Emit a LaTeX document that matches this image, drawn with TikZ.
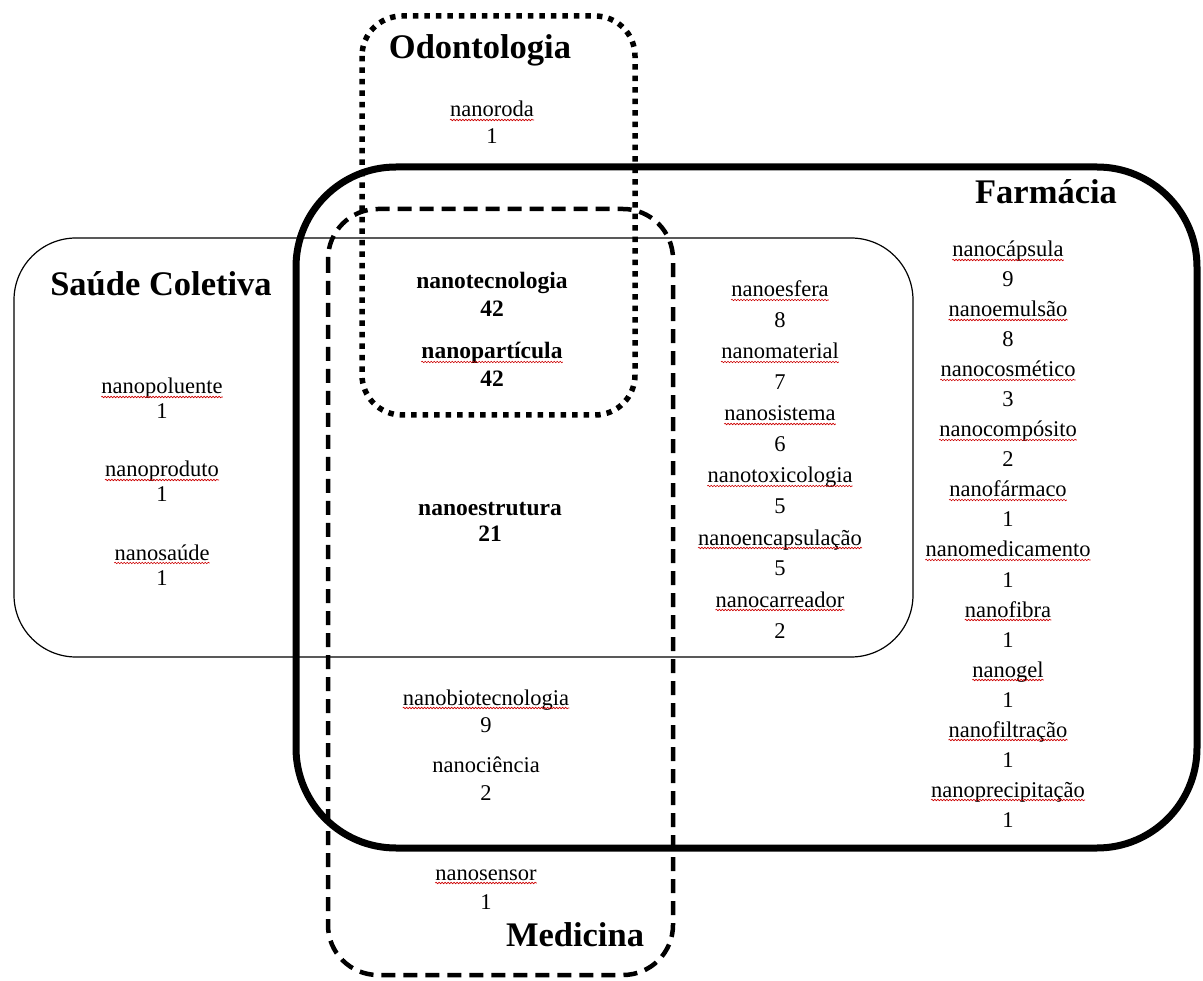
\documentclass[tikz,border=0pt]{standalone}
\usepackage{fontspec}
\setmainfont{Liberation Serif}
\usetikzlibrary{decorations.pathmorphing}
\tikzset{
  term/.style={font=\fontsize{22.5}{27}\selectfont,inner sep=0pt,anchor=base},
  hit/.style={font=\fontsize{23.5}{28}\selectfont\bfseries,inner sep=0pt,anchor=base},
  area/.style={font=\fontsize{34.5}{40}\selectfont\bfseries,inner sep=0pt,anchor=base},
  typo/.style={draw=red!80!black,line width=0.6pt,decorate,
    decoration={snake,amplitude=0.8pt,segment length=3pt}},
  saudebox/.style={draw,line width=1.2pt,rounded corners=62pt},
  farmabox/.style={draw,line width=7pt,rounded corners=100pt},
  medbox/.style={draw,line width=4.5pt,rounded corners=50pt,dash pattern=on 14pt off 8pt},
  odontobox/.style={draw,line width=5.5pt,rounded corners=40pt,dash pattern=on 5.5pt off 6pt}
}
\begin{document}
\begin{tikzpicture}[x=1pt,y=-1pt]
  \useasboundingbox (0,0) rectangle (1203,981);
  % the four areas
  \draw[saudebox] (14,238) rectangle (913,657);
  \draw[farmabox] (296,167) rectangle (1197,848);
  \draw[medbox] (328,209) rectangle (673,975);
  \draw[odontobox] (362,16) rectangle (635,415);

  \node[area] (odonto) at (480,59) {Odontologia};
  \node[area] (farma) at (1046,204) {Farmácia};
  \node[area] (saude) at (161,296) {Saúde Coletiva};
  \node[area] (med) at (575,946) {Medicina};

  % Odontologia only
  \node[term] (ow) at (492,117) {nanoroda};
  \node[term] (on) at (492,144) {1};

  % Saude Coletiva only
  \foreach \w/\n [count=\i from 0] in {nanopoluente/1,nanoproduto/1,nanosaúde/1}{
    \node[term] (sw\i) at (162,{394+83*\i}) {\w};
    \node[term] (sn\i) at (162,{419+83*\i}) {\n};
  }

  % all four / three areas
  \node[hit] (tec) at (492,289) {nanotecnologia};
  \node[hit] (tecn) at (492,317) {42};
  \node[hit] (par) at (492,359) {nanopartícula};
  \node[hit] (parn) at (492,387) {42};
  \node[hit] (est) at (490,515) {nanoestrutura};
  \node[hit] (estn) at (490,542) {21};

  % Saude Coletiva and Farmacia
  \foreach \w/\n [count=\i from 0] in {nanoesfera/8,nanomaterial/7,nanosistema/6,
      nanotoxicologia/5,nanoencapsulação/5,nanocarreador/2}{
    \node[term] (mw\i) at (780,{297+62*\i}) {\w};
    \node[term] (mn\i) at (780,{328+62*\i}) {\n};
  }

  % Farmacia and Medicina
  \node[term] (bio) at (486,705) {nanobiotecnologia};
  \node[term] (bion) at (486,732) {9};
  \node[term] (cie) at (486,772) {nanociência};
  \node[term] (cien) at (486,800) {2};

  % Medicina only
  \node[term] (sen) at (486,880) {nanosensor};
  \node[term] (senn) at (486,909) {1};

  % Farmacia only
  \foreach \w/\n [count=\i from 0] in {nanocápsula/9,nanoemulsão/8,nanocosmético/3,
      nanocompósito/2,nanofármaco/1,nanomedicamento/1,nanofibra/1,nanogel/1,
      nanofiltração/1,nanoprecipitação/1}{
    \node[term] (fw\i) at (1008,{257+60*\i}) {\w};
    \node[term] (fn\i) at (1008,{287+60*\i}) {\n};
  }

  % spell-check marks
  \foreach \n in {ow,sw0,sw1,sw2,par,mw0,mw1,mw2,mw3,mw4,mw5,bio,sen,
      fw0,fw1,fw2,fw3,fw4,fw5,fw6,fw7,fw8,fw9}
    \draw[typo] ([yshift=-3pt]\n.base west) -- ([yshift=-3pt]\n.base east);
\end{tikzpicture}
\end{document}
